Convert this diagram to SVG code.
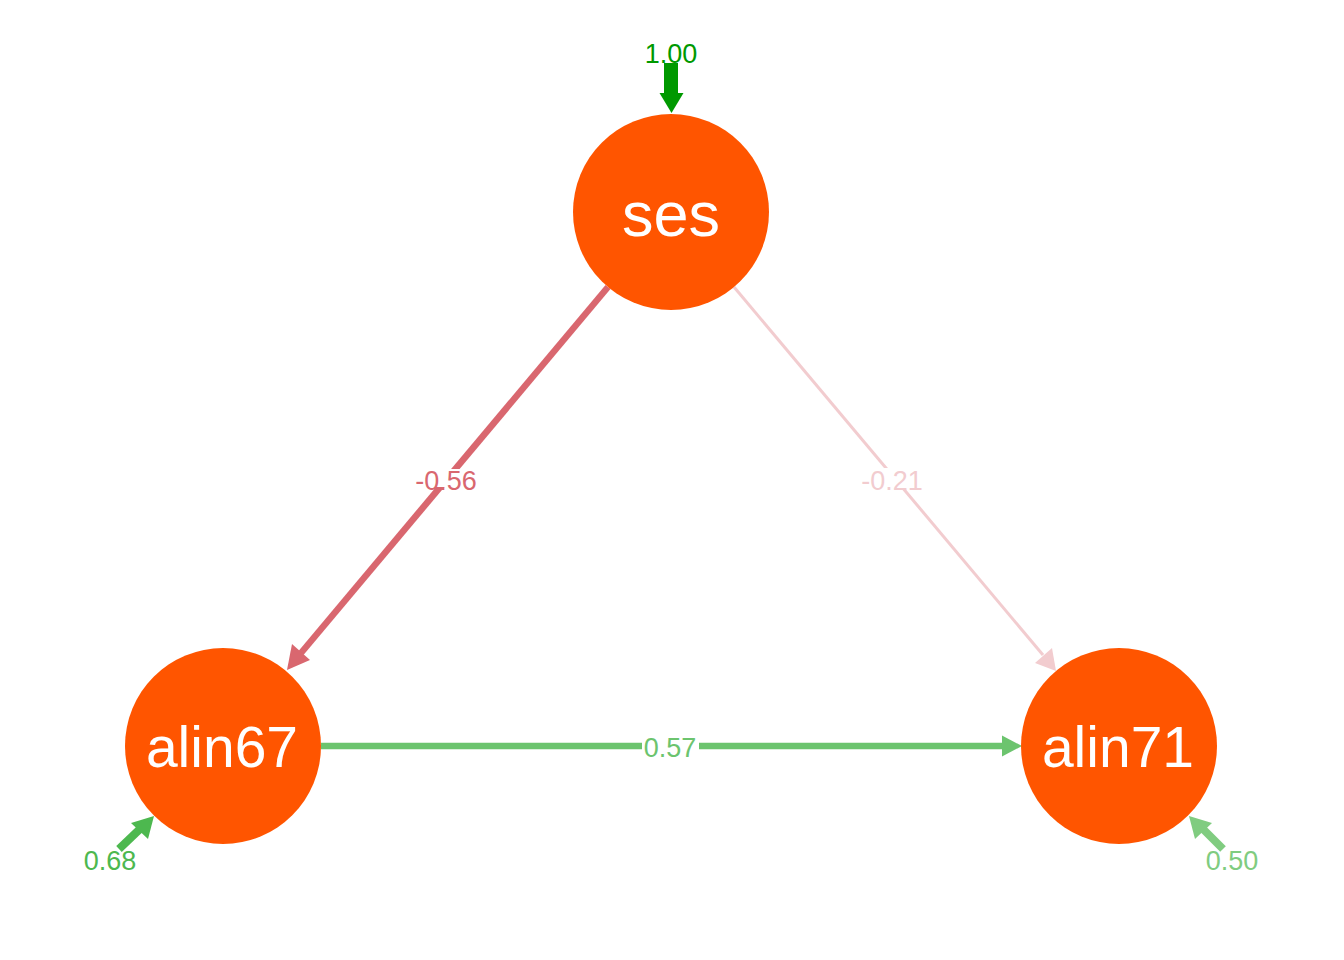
<svg xmlns="http://www.w3.org/2000/svg" width="1344" height="960" viewBox="0 0 1344 960">
<style>
.node{fill:#FF5500}
.nlab{fill:#FFFFFF;font-family:"Liberation Sans",Arial,sans-serif;text-anchor:middle}
.elab{font-family:"Liberation Sans",Arial,sans-serif;font-size:27px;text-anchor:middle}
.bg{fill:#FFFFFF}
</style>
<rect width="1344" height="960" fill="#FFFFFF"/>
<g id="connectors">
  <g id="e-ses-alin67">
    <line x1="608" y1="287" x2="301" y2="653" stroke="#D9676F" stroke-width="6.5"/>
    <polygon points="287,670 292,644 310,660" fill="#D9676F"/>
    <rect class="bg" x="414" y="469" width="66" height="18"/>
    <text class="elab" x="446" y="490" fill="#D9676F">-0.56</text>
  </g>
  <g id="e-ses-alin71">
    <line x1="734" y1="287" x2="1043" y2="655" stroke="#F2CCCF" stroke-width="3"/>
    <polygon points="1056,671 1035,663 1052,648" fill="#F2CCCF"/>
    <rect class="bg" x="860" y="468" width="64" height="20"/>
    <text class="elab" x="892" y="490" fill="#F2CCCF">-0.21</text>
  </g>
  <g id="e-alin67-alin71">
    <line x1="321" y1="746" x2="1003" y2="746" stroke="#6CC46E" stroke-width="6.5"/>
    <polygon points="1022,746 1002,735.5 1002,756.5" fill="#6CC46E"/>
    <rect class="bg" x="642" y="736" width="57" height="20"/>
    <text class="elab" x="670" y="757" fill="#6CC46E">0.57</text>
  </g>
  <g id="r-ses">
    <rect x="664" y="63" width="14" height="31" fill="#009900"/>
    <polygon points="659.5,93 683.5,93 671.5,113" fill="#009900"/>
    <text class="elab" x="671" y="63" fill="#009900">1.00</text>
  </g>
  <g id="r-alin67">
    <line x1="119" y1="849" x2="141" y2="828" stroke="#4DB84F" stroke-width="8"/>
    <polygon points="154,816 131,823 148,839" fill="#4DB84F"/>
    <text class="elab" x="110" y="870" fill="#4DB84F">0.68</text>
  </g>
  <g id="r-alin71">
    <line x1="1223" y1="849" x2="1203" y2="829" stroke="#80CC80" stroke-width="8"/>
    <polygon points="1189,816 1212,823 1195,839" fill="#80CC80"/>
    <text class="elab" x="1232" y="870" fill="#80CC80">0.50</text>
  </g>
</g>
<g id="ses">
  <circle class="node" cx="671" cy="212" r="98"/>
  <text class="nlab" x="671" y="236" font-size="63">ses</text>
</g>
<g id="alin67">
  <circle class="node" cx="223" cy="746" r="98"/>
  <text class="nlab" x="222" y="767" font-size="57">alin67</text>
</g>
<g id="alin71">
  <circle class="node" cx="1119" cy="746" r="98"/>
  <text class="nlab" x="1118" y="767" font-size="57">alin71</text>
</g>
</svg>
